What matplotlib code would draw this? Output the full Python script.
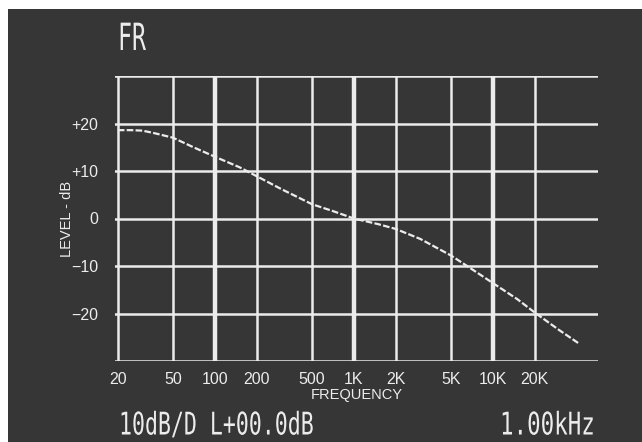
import matplotlib.pyplot as plt
from matplotlib.patches import Rectangle
from matplotlib.patheffects import AbstractPathEffect
from matplotlib.transforms import Affine2D

# measured trace
freq = [20, 25, 30, 35, 40, 50, 70, 100, 150, 200, 300, 500, 700,
        1000, 1500, 2000, 3000, 5000, 7000, 10000, 15000, 20000, 30000, 41000]
level = [18.6, 18.6, 18.5, 18.1, 17.7, 17.0, 15.0, 13.0, 10.8, 8.9, 6.2, 3.0, 1.6,
         0.0, -1.2, -2.2, -4.3, -7.8, -10.6, -13.6, -17.0, -19.8, -23.5, -26.2]

x_ticks = [20, 50, 100, 200, 500, 1000, 2000, 5000, 10000, 20000]
x_labels = ['20', '50', '100', '200', '500', '1K', '2K', '5K', '10K', '20K']
thick = [100, 1000, 10000]
y_ticks = [-20, -10, 0, 10, 20]
y_labels = ['\u221220', '\u221210', '0', '+10', '+20']

bg = '#363636'
fg = '#ececec'
W, H = 642, 442


class Squeeze(AbstractPathEffect):
    """draw text narrower, like the screen font"""
    def __init__(self, sx):
        super().__init__()
        self.sx = sx

    def draw_path(self, renderer, gc, tpath, affine, rgbFace=None):
        renderer.draw_path(gc, tpath, Affine2D().scale(self.sx, 1) + affine, rgbFace)


fig = plt.figure(figsize=(W / 100, H / 100), dpi=100, facecolor='white')
fig.patches.append(Rectangle((8 / W, 0), 1, 1 - 9 / H, transform=fig.transFigure,
                             facecolor=bg, edgecolor='none', zorder=-10))

ax = fig.add_axes([115 / W, 1 - 361 / H, (598 - 115) / W, (361 - 76) / H])
ax.set_facecolor(bg)
ax.set_xscale('log')
ax.set_xlim(19.1, 57000)
ax.set_ylim(-30, 30)

for s in ax.spines.values():
    s.set_visible(False)

# grid
for f in x_ticks:
    ax.axvline(f, color=fg, lw=3.2 if f in thick else 1.8, zorder=1)
for v in [-30, -20, -10, 0, 10, 20, 30]:
    ax.axhline(v, color=fg, lw=1.8, zorder=1)

ax.plot(freq, level, color=fg, lw=1.6, dashes=(3, 1), zorder=3)

ax.set_xticks(x_ticks)
ax.set_xticklabels(x_labels)
ax.set_yticks(y_ticks)
ax.set_yticklabels(y_labels)
ax.minorticks_off()
ax.tick_params(length=0, colors=fg, labelsize=11.5, pad=8)
ax.tick_params(axis='y', pad=12)
for t in ax.get_xticklabels() + ax.get_yticklabels():
    t.set_fontfamily('Liberation Sans')

ax.set_xlabel('FREQUENCY', color=fg, fontsize=10.5, family='Liberation Sans', labelpad=1)
ax.set_ylabel('LEVEL - dB', color=fg, fontsize=10.5, family='Liberation Sans', labelpad=-2)

mono = 'DejaVu Sans Mono'
fig.text(118 / W, 1 - 40 / H, 'FR', color=fg, fontsize=27, family=mono, va='center',
         path_effects=[Squeeze(0.62)])
fig.text(119 / W, 1 - 426 / H, '10dB/D L+00.0dB', color=fg, fontsize=22.5,
         family=mono, va='center', path_effects=[Squeeze(0.69)])
fig.text(500 / W, 1 - 426 / H, '1.00kHz', color=fg, fontsize=22.5,
         family=mono, va='center', path_effects=[Squeeze(0.72)])

fig.savefig('out.png', dpi=100, facecolor=fig.get_facecolor())
